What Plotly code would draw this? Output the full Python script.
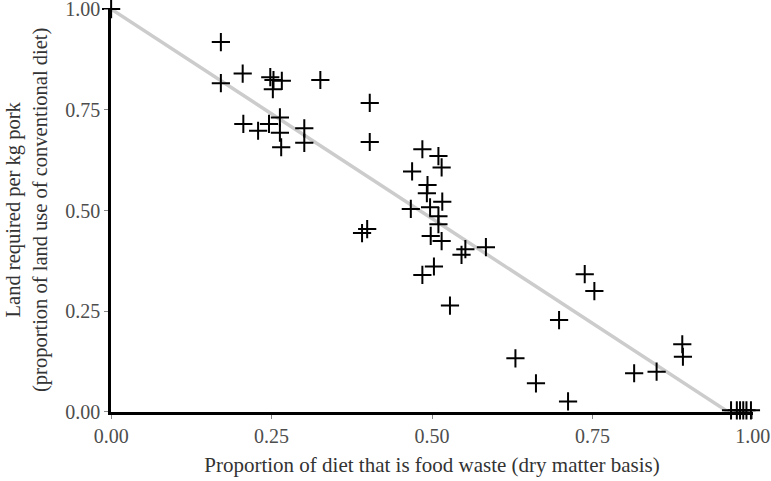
import plotly.graph_objects as go

# Proportion of diet that is food waste (dry matter basis)
waste_prop = [0.000, 0.171, 0.171, 0.205, 0.248, 0.253, 0.266, 0.252, 0.326,
              0.206, 0.229, 0.246, 0.263, 0.263, 0.301, 0.301, 0.265,
              0.403, 0.403, 0.391, 0.399,
              0.485, 0.510, 0.515, 0.469, 0.493, 0.492, 0.516, 0.497, 0.467,
              0.510, 0.510, 0.498, 0.515, 0.546, 0.552, 0.584, 0.485, 0.503,
              0.528, 0.738, 0.753, 0.698, 0.630, 0.662, 0.712, 0.815, 0.850,
              0.890, 0.891, 0.966, 0.975, 0.980, 0.985, 0.990, 0.997]
# Land required per kg pork (proportion of conventional diet)
land_prop = [1.000, 0.918, 0.816, 0.840, 0.831, 0.824, 0.822, 0.801, 0.824,
             0.715, 0.698, 0.715, 0.731, 0.693, 0.704, 0.668, 0.657,
             0.767, 0.670, 0.444, 0.454,
             0.652, 0.635, 0.607, 0.597, 0.563, 0.543, 0.522, 0.508, 0.504,
             0.486, 0.466, 0.437, 0.424, 0.390, 0.404, 0.409, 0.340, 0.361,
             0.264, 0.342, 0.300, 0.228, 0.133, 0.071, 0.026, 0.096, 0.100,
             0.168, 0.137, 0.004, 0.004, 0.004, 0.004, 0.004, 0.004]

fit_intercept = 1.0
fit_slope = -1.04
fit_x = [0.0, fit_intercept / -fit_slope]
fit_y = [fit_intercept + fit_slope * v for v in fit_x]

tick_vals = [0.0, 0.25, 0.5, 0.75, 1.0]
tick_text = ["0.00", "0.25", "0.50", "0.75", "1.00"]

x_title = "Proportion of diet that is food waste (dry matter basis)"
y_title = "Land required per kg pork<br>(proportion of land use of conventional diet)"

FONT = "Liberation Serif"

fig = go.Figure()
fig.add_trace(go.Scatter(
    x=fit_x, y=fit_y, mode="lines",
    line=dict(color="#cccccc", width=3.5),
    hoverinfo="skip", showlegend=False, cliponaxis=False))
fig.add_trace(go.Scatter(
    x=waste_prop, y=land_prop, mode="markers",
    marker=dict(symbol="cross-thin-open", size=13, color="black",
                line=dict(color="black", width=2)),
    showlegend=False, cliponaxis=False))

axis_common = dict(
    range=[-0.0002, 1.0002], tickmode="array", tickvals=tick_vals, ticktext=tick_text,
    showgrid=False, zeroline=False, showline=True, linecolor="black",
    linewidth=2.5, ticks="outside", ticklen=4, tickcolor="#888888",
    tickfont=dict(family=FONT, size=20, color="#4d4d4d"),
    automargin=False, ticklabeloverflow="allow", tickangle=0,
)

fig.update_layout(
    width=771, height=481,
    margin=dict(l=111, r=18, t=9, b=69),
    plot_bgcolor="white", paper_bgcolor="white",
    xaxis=dict(**axis_common,
               title=dict(text=x_title,
                          font=dict(family=FONT, size=21, color="#333333"),
                          standoff=12)),
    yaxis=dict(**axis_common),
    annotations=[dict(
        text=y_title, textangle=-90, showarrow=False,
        xref="paper", yref="paper",
        x=(26.5 - 111) / 642, y=0.5, xanchor="center", yanchor="middle",
        font=dict(family=FONT, size=20.5, color="#333333"),
    )],
)

fig.write_html("out.html", post_script="document.body.style.margin='0';",
               config={"displayModeBar": False})
